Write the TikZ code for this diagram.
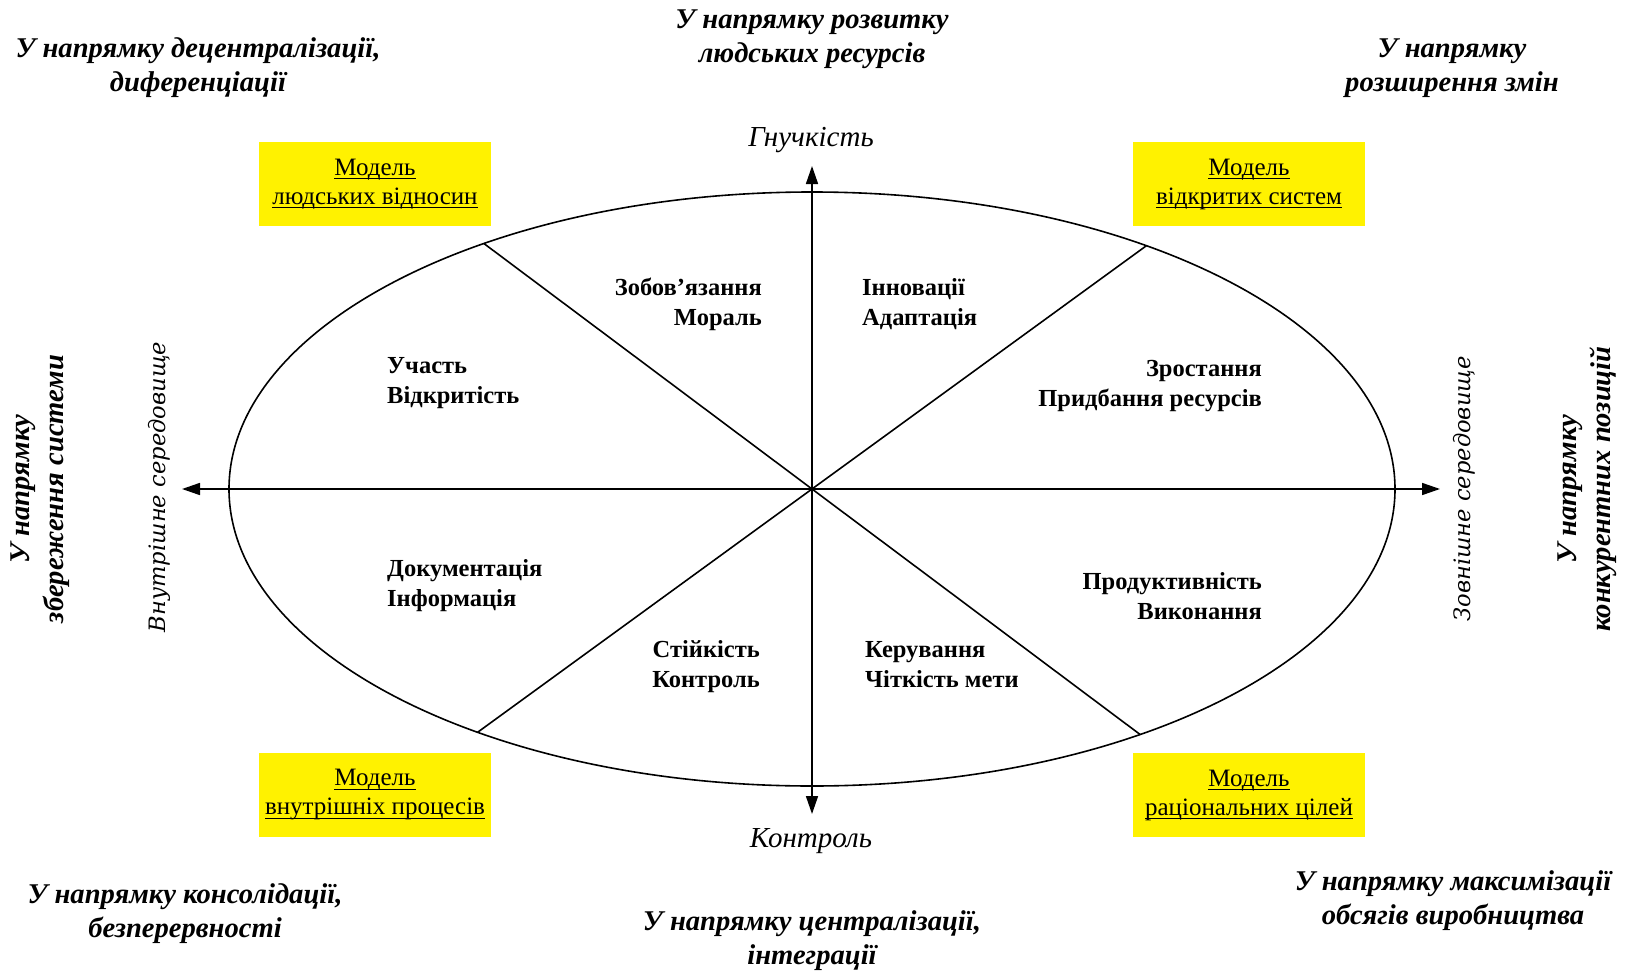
\documentclass[tikz,border=0pt]{standalone}
\usepackage{fontspec}
\setmainfont{Liberation Serif}
\newfontfamily\sideserif{DejaVu Serif}
\newcommand\uln[1]{\setbox0\hbox{#1}\leavevmode\rlap{\rule[-4pt]{\wd0}{1.2pt}}\box0}
\usetikzlibrary{arrows.meta}

\tikzset{
  direction/.style={inner sep=0, align=center, font=\fontsize{28.6}{34}\selectfont\bfseries\itshape},
  sidedirection/.style={direction, rotate=90},
  environment/.style={inner sep=0, rotate=90, font=\sideserif\fontsize{22.6}{30}\selectfont\itshape},
  axislabel/.style={inner sep=0, font=\fontsize{29}{30}\selectfont\itshape},
  value/.style={inner sep=0, font=\fontsize{24.5}{30}\selectfont\bfseries},
  model/.style={fill=yellow, inner sep=0, minimum width=232, minimum height=84, align=center, font=\fontsize{25}{29}\selectfont},
  axis/.style={line width=1.6pt, {Triangle[length=18pt,width=12pt]}-{Triangle[length=18pt,width=12pt]}}
}

\begin{document}
\begin{tikzpicture}[x=1pt, y=-1pt]

\useasboundingbox (0,0) rectangle (1630,971);

% Centre and axis ends
\coordinate (O) at (812,489);
\coordinate (W) at (182,489);
\coordinate (E) at (1440,489);
\coordinate (N) at (812,166);
\coordinate (S) at (812,814);

% Ellipse
\draw[line width=1.6pt] (O) ellipse [x radius=583, y radius=297];

% Points on the ellipse
\path (O) ++(125:583 and 297) coordinate (TL);
\path (O) ++(55.75:583 and 297) coordinate (TR);
\path (O) ++(235.75:583 and 297) coordinate (BL);
\path (O) ++(305:583 and 297) coordinate (BR);

% Diagonals
\draw[line width=1.6pt] (TL)--(BR);
\draw[line width=1.6pt] (TR)--(BL);

% Axes
\draw[axis] (W)--(E);
\draw[axis] (S)--(N);

% Axis labels
\node[axislabel] (flex) at (811,140) {Гнучкість};
\node[axislabel] (ctrl) at (811,841) {Контроль};
\node[environment] (envIn) at (159,487) {Внутрішне середовище};
\node[environment] (envOut) at (1464,489) {Зовнішне середовище};

% Models
\node[model] (mHR) at (375,184) {\uln{Модель}\\\uln{людських відносин}};
\node[model] (mOS) at (1249,184) {\uln{Модель}\\\uln{відкритих систем}};
\node[model] (mIP) at (375,795) {\uln{Модель}\\\uln{внутрішніх процесів}};
\node[model] (mRG) at (1249,795) {\uln{Модель}\\\uln{раціональних цілей}};

% Values
\node[value, anchor=east, align=right] (commit) at (762,304) {Зобов’язання\\Мораль};
\node[value, anchor=west, align=left] (innov) at (862,304) {Інновації\\Адаптація};
\node[value, anchor=west, align=left] (partic) at (387,383) {Участь\\Відкритість};
\node[value, anchor=east, align=right] (growth) at (1262,386) {Зростання\\Придбання ресурсів};
\node[value, anchor=west, align=left] (docum) at (387,586) {Документація\\Інформація};
\node[value, anchor=east, align=right] (produc) at (1262,596) {Продуктивність\\Виконання};
\node[value, anchor=east, align=right] (stabil) at (760,667) {Стійкість\\Контроль};
\node[value, anchor=west, align=left] (manage) at (865,665) {Керування\\Чіткість мети};

% Directions
\node[direction] (dirNW) at (198,68) {У напрямку децентралізації,\\диференціації};
\node[direction] (dirN) at (812,39) {У напрямку розвитку\\людських ресурсів};
\node[direction] (dirNE) at (1452,68) {У напрямку\\розширення змін};
\node[direction] (dirSW) at (185,914) {У напрямку консолідації,\\безперервності};
\node[direction] (dirS) at (812,941) {У напрямку централізації,\\інтеграції};
\node[direction] (dirSE) at (1453,901) {У напрямку максимізації\\обсягів виробництва};
\node[sidedirection] (dirW) at (40,489) {У напрямку\\збереження системи};
\node[sidedirection] (dirE) at (1587,489) {У напрямку\\конкурентних позицій};

\end{tikzpicture}
\end{document}
